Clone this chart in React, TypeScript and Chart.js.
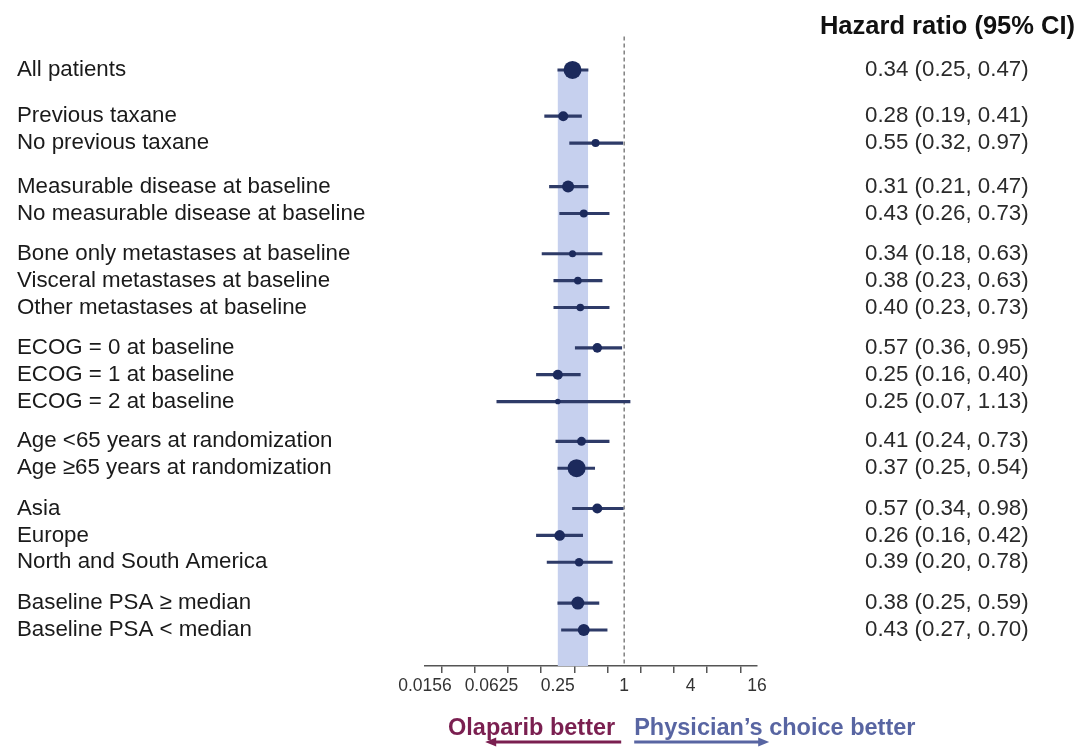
import React, { useEffect, useRef } from 'react';
import { Chart, registerables } from 'chart.js';

Chart.register(...registerables);

// Subgroup rows, top to bottom
const subgroups = [
  'All patients',
  'Previous taxane',
  'No previous taxane',
  'Measurable disease at baseline',
  'No measurable disease at baseline',
  'Bone only metastases at baseline',
  'Visceral metastases at baseline',
  'Other metastases at baseline',
  'ECOG = 0 at baseline',
  'ECOG = 1 at baseline',
  'ECOG = 2 at baseline',
  'Age <65 years at randomization',
  'Age \u226565 years at randomization',
  'Asia',
  'Europe',
  'North and South America',
  'Baseline PSA \u2265 median',
  'Baseline PSA < median',
];

// Which block each row belongs to
const groupIds = [0, 1, 1, 2, 2, 3, 3, 3, 4, 4, 4, 5, 5, 6, 6, 6, 7, 7];

const hazardRatios = [0.34, 0.28, 0.55, 0.31, 0.43, 0.34, 0.38, 0.40, 0.57, 0.25, 0.25, 0.41, 0.37, 0.57, 0.26, 0.39, 0.38, 0.43];
const ciLower = [0.25, 0.19, 0.32, 0.21, 0.26, 0.18, 0.23, 0.23, 0.36, 0.16, 0.07, 0.24, 0.25, 0.34, 0.16, 0.20, 0.25, 0.27];
const ciUpper = [0.47, 0.41, 0.97, 0.47, 0.73, 0.63, 0.63, 0.73, 0.95, 0.40, 1.13, 0.73, 0.54, 0.98, 0.42, 0.78, 0.59, 0.70];

// Marker size reflects subgroup weight
const markerRadius = [9, 5, 4, 6, 4, 3.5, 3.8, 3.8, 4.8, 5, 2.8, 4.5, 9, 5, 5.3, 4.3, 6.5, 6];

const xTickLabels = ['0.0156', '0.0625', '0.25', '1', '4', '16'];
const headerText = 'Hazard ratio (95% CI)';
const leftFavours = 'Olaparib better';
const rightFavours = 'Physician\u2019s choice better';

const FONT = "'Liberation Sans', Arial, Helvetica, sans-serif";
// Extra blank space (in rows) inserted before each new block
const BLOCK_GAPS = [0.72, 0.62, 0.5, 0.5, 0.48, 0.5, 0.52];
const Y_MIN = -1.13;
const Y_MAX = 22.18;

const rowPos = subgroups.map(
  (_, i) => i + BLOCK_GAPS.slice(0, groupIds[i]).reduce((a, b) => a + b, 0)
);
const hrLabels = hazardRatios.map(
  (hr, i) => `${hr.toFixed(2)} (${ciLower[i].toFixed(2)}, ${ciUpper[i].toFixed(2)})`
);
const xTickValues = Array.from({ length: 11 }, (_, k) => Math.pow(2, k - 6));

function drawArrow(ctx: CanvasRenderingContext2D, xFrom: number, xTo: number, y: number, color: string) {
  const dir = Math.sign(xTo - xFrom);
  ctx.strokeStyle = color;
  ctx.fillStyle = color;
  ctx.lineWidth = 3;
  ctx.beginPath();
  ctx.moveTo(xFrom, y);
  ctx.lineTo(xTo - dir * 8, y);
  ctx.stroke();
  ctx.beginPath();
  ctx.moveTo(xTo, y);
  ctx.lineTo(xTo - dir * 11, y - 4.5);
  ctx.lineTo(xTo - dir * 11, y + 4.5);
  ctx.closePath();
  ctx.fill();
}

const forestDecor = {
  id: 'forestDecor',
  beforeDatasetsDraw(chart: any) {
    const { ctx, chartArea, scales } = chart;
    const x = scales.x;
    const y = scales.y;
    // overall-population confidence band
    const top = y.getPixelForValue(rowPos[0]);
    const xl = x.getPixelForValue(ciLower[0]);
    const xr = x.getPixelForValue(ciUpper[0]);
    ctx.save();
    ctx.fillStyle = '#c6d0ee';
    ctx.fillRect(xl, top, xr - xl, chartArea.bottom - top);
    // line of no effect
    const x1 = x.getPixelForValue(1);
    ctx.strokeStyle = '#808080';
    ctx.lineWidth = 1.5;
    ctx.setLineDash([4, 3]);
    ctx.beginPath();
    ctx.moveTo(x1, chartArea.top - 3);
    ctx.lineTo(x1, chartArea.bottom);
    ctx.stroke();
    ctx.restore();
  },
  afterDraw(chart: any) {
    const { ctx, scales } = chart;
    const x1 = scales.x.getPixelForValue(1);
    const textY = 735;
    const arrowY = 742;
    ctx.save();
    ctx.font = `bold 23.5px ${FONT}`;
    ctx.textBaseline = 'alphabetic';
    ctx.fillStyle = '#7a1f50';
    ctx.textAlign = 'right';
    ctx.fillText(leftFavours, x1 - 9, textY);
    ctx.fillStyle = '#5865a2';
    ctx.textAlign = 'left';
    ctx.fillText(rightFavours, x1 + 10, textY);
    drawArrow(ctx, x1 - 3, x1 - 139, arrowY, '#7a1f50');
    drawArrow(ctx, x1 + 10, x1 + 145, arrowY, '#5865a2');
    ctx.restore();
  },
};

// Fixed axis boxes; the label columns must not push the plot area around
const fixBox = (size: { width?: number; height?: number }) => (axis: any) => {
  if (size.width !== undefined) axis.width = size.width;
  if (size.height !== undefined) axis.height = size.height;
  axis.paddingTop = 0;
  axis.paddingBottom = 0;
  axis.paddingLeft = 0;
  axis.paddingRight = 0;
};

export default function App() {
  const canvasRef = useRef<HTMLCanvasElement | null>(null);

  useEffect(() => {
    if (!canvasRef.current) return;
    Chart.defaults.font.family = FONT;

    const rowTicks = (axis: any) => {
      axis.ticks = rowPos.map((v) => ({ value: v }));
    };

    const chart = new Chart(canvasRef.current, {
      type: 'bar',
      data: {
        datasets: [
          {
            type: 'scatter',
            label: 'Hazard ratio',
            data: hazardRatios.map((hr, i) => ({ x: hr, y: rowPos[i] })),
            pointRadius: markerRadius,
            pointHoverRadius: markerRadius,
            pointBackgroundColor: '#1c2a5c',
            pointBorderWidth: 0,
            showLine: false,
            order: 0,
          } as any,
          {
            type: 'bar',
            label: '95% CI',
            indexAxis: 'y',
            data: ciLower.map((lo, i) => ({ x: [lo, ciUpper[i]], y: rowPos[i] })),
            backgroundColor: '#2e3b68',
            borderWidth: 0,
            barThickness: 2.5,
            order: 1,
          } as any,
        ],
      },
      options: {
        animation: false,
        responsive: false,
        devicePixelRatio: 1,
        layout: { padding: { left: 17, right: 5, top: 0, bottom: 51 } },
        plugins: {
          legend: { display: false },
          tooltip: { enabled: false },
          title: {
            display: true,
            text: headerText,
            align: 'end',
            color: '#111111',
            font: { size: 25.5, weight: 'bold', family: FONT },
            padding: { top: 12, bottom: -3 },
          },
        },
        scales: {
          x: {
            type: 'logarithmic',
            min: Math.pow(2, -6),
            max: 16,
            offset: false,
            afterBuildTicks: (axis: any) => {
              axis.ticks = xTickValues.map((v) => ({ value: v }));
            },
            afterFit: fixBox({ height: 30 }),
            ticks: {
              autoSkip: false,
              maxRotation: 0,
              padding: 3,
              color: '#333333',
              font: { size: 17.5, family: FONT },
              callback: (_v: any, i: number) => (i % 2 === 0 ? xTickLabels[i / 2] : ''),
            },
            grid: {
              display: true,
              drawOnChartArea: false,
              drawTicks: true,
              tickLength: 7,
              color: '#555555',
              lineWidth: 1.5,
            },
            border: { display: true, color: '#555555', width: 1.5 },
          },
          y: {
            type: 'linear',
            position: 'left',
            reverse: true,
            offset: false,
            min: Y_MIN,
            max: Y_MAX,
            afterBuildTicks: rowTicks,
            afterFit: fixBox({ width: 408 }),
            ticks: {
              autoSkip: false,
              crossAlign: 'far',
              padding: 0,
              color: '#1a1a1a',
              font: { size: 22.3, family: FONT },
              callback: (_v: any, i: number) => subgroups[i],
            },
            grid: { display: false, drawTicks: false, offset: false },
            border: { display: false },
          },
          yRight: {
            type: 'linear',
            position: 'right',
            reverse: true,
            offset: false,
            min: Y_MIN,
            max: Y_MAX,
            afterBuildTicks: rowTicks,
            afterFit: fixBox({ width: 318 }),
            ticks: {
              autoSkip: false,
              crossAlign: 'near',
              padding: 108,
              color: '#2a2a2a',
              font: { size: 22.3, family: FONT },
              callback: (_v: any, i: number) => hrLabels[i],
            },
            grid: { display: false, drawTicks: false },
            border: { display: false },
          },
        },
      } as any,
      plugins: [forestDecor],
    });

    return () => chart.destroy();
  }, []);

  return (
    <div
      style={{
        position: 'fixed',
        left: 0,
        top: 0,
        width: 1080,
        height: 747,
        background: '#ffffff',
      }}
    >
      <canvas ref={canvasRef} width={1080} height={747} style={{ display: 'block' }} />
    </div>
  );
}
